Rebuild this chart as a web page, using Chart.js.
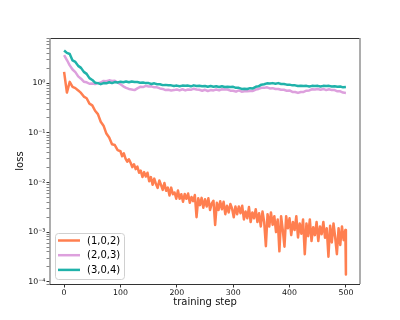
<!DOCTYPE html>
<html>
<head>
<meta charset="utf-8">
<script src="https://cdn.jsdelivr.net/npm/chart.js@4.4.0/dist/chart.umd.min.js"></script>
<style>
  html, body { margin: 0; padding: 0; background: #fff; }
  #wrap { width: 400px; height: 320px; }
</style>
</head>
<body>
<div id="wrap"><canvas id="lossChart" width="400" height="320"></canvas></div>
<script>
// training steps for (2,0,3) and (3,0,4), sampled every 5 steps
const steps = [0, 5, 10, 15, 20, 25, 30, 35, 40, 45, 50, 55, 60, 65, 70, 75, 80, 85, 90, 95,
  100, 105, 110, 115, 120, 125, 130, 135, 140, 145, 150, 155, 160, 165, 170, 175, 180, 185, 190, 195,
  200, 205, 210, 215, 220, 225, 230, 235, 240, 245, 250, 255, 260, 265, 270, 275, 280, 285, 290, 295,
  300, 305, 310, 315, 320, 325, 330, 335, 340, 345, 350, 355, 360, 365, 370, 375, 380, 385, 390, 395,
  400, 405, 410, 415, 420, 425, 430, 435, 440, 445, 450, 455, 460, 465, 470, 475, 480, 485, 490, 495, 500];

// (1,0,2) is much noisier, so it is sampled more densely after step 100
const stepsOrange = [0, 5, 10, 15, 20, 25, 30, 35, 40, 45, 50, 55, 60, 65, 70, 75, 80, 85, 90, 95,
  100, 103, 106, 109, 112, 115, 118, 121, 124, 127,
  130, 133, 136, 139, 142, 145, 148, 151, 154, 157,
  160, 163, 166, 169, 172, 175, 178, 181, 184, 187,
  190, 193, 196, 199, 202, 205, 208, 211, 214, 217,
  220, 223, 226, 229, 232, 235, 238, 241, 244, 247,
  250, 253, 256, 259, 262, 265, 268, 271, 274, 277,
  280, 283, 286, 289, 292, 295, 298, 301, 304, 307,
  310, 313, 316, 319, 322, 325, 328, 331, 334, 337,
  340, 343, 346, 349, 352, 355, 358, 361, 364, 367,
  370, 373, 376, 379, 382, 385, 388, 391, 394, 397,
  400, 403, 406, 409, 412, 415, 418, 421, 424, 427,
  430, 433, 436, 439, 442, 445, 448, 451, 454, 457,
  460, 463, 466, 469, 472, 475, 478, 481, 484, 487,
  490, 493, 496, 499, 500];

const seriesNames = ["(1,0,2)", "(2,0,3)", "(3,0,4)"];
const seriesColors = ["#FF7F50", "#DDA0DD", "#20B2AA"];

const loss102 = [1.7, 0.65, 1.07, 0.85, 0.80, 0.72, 0.64, 0.54, 0.50, 0.39,
  0.36, 0.28, 0.24, 0.168, 0.14, 0.097, 0.081, 0.059, 0.057, 0.045,
  0.0427, 0.0339, 0.0389, 0.0302, 0.0263, 0.0295, 0.0251, 0.0204, 0.0234, 0.0186,
  0.0209, 0.0158, 0.0174, 0.0129, 0.0162, 0.0132, 0.0158, 0.0106, 0.0129, 0.0090,
  0.0120, 0.0093, 0.0078, 0.011, 0.0089, 0.0071, 0.0098, 0.0068, 0.0079, 0.0055,
  0.0079, 0.0058, 0.0063, 0.0047, 0.0069, 0.0047, 0.0058, 0.0041, 0.0059, 0.0047,
  0.0060, 0.0039, 0.0051, 0.0042, 0.0056, 0.0020, 0.0048, 0.0035, 0.0049, 0.0031,
  0.0046, 0.0033, 0.0048, 0.0028, 0.0038, 0.0043, 0.0014, 0.0039, 0.0028, 0.0042,
  0.0029, 0.0041, 0.0023, 0.0034, 0.0025, 0.0037, 0.0030, 0.0020, 0.0033, 0.0023,
  0.0033, 0.0024, 0.0034, 0.0018, 0.0026, 0.0019, 0.0032, 0.0016, 0.0025, 0.0019,
  0.0029, 0.0016, 0.0024, 0.0013, 0.0026, 0.0016, 0.00052, 0.0023, 0.0013, 0.0025,
  0.0014, 0.0021, 0.0010, 0.0018, 0.00041, 0.0021, 0.0011, 0.00051, 0.0021, 0.0012,
  0.0019, 0.00087, 0.0016, 0.0011, 0.0021, 0.00078, 0.0015, 0.00093, 0.0018, 0.00036,
  0.0015, 0.00083, 0.0018, 0.00066, 0.00126, 0.00087, 0.0016, 0.00066, 0.0013, 0.00091,
  0.0016, 0.00077, 0.0012, 0.00032, 0.00135, 0.00062, 0.0015, 0.00078, 0.00036, 0.0012,
  0.00055, 0.0013, 0.00069, 0.0011, 0.00014];

const loss203 = [3.7, 2.95, 2.3, 1.9, 1.68, 1.38, 1.24, 1.08, 1.05, 0.98,
  0.99, 0.97, 1.01, 1.04, 1.12, 1.1, 1.15, 1.11, 1.13, 1.04,
  0.96, 0.87, 0.81, 0.77, 0.75, 0.73, 0.79, 0.85, 0.84, 0.89,
  0.86, 0.87, 0.83, 0.83, 0.79, 0.77, 0.73, 0.74, 0.72, 0.73,
  0.75, 0.72, 0.76, 0.72, 0.75, 0.74, 0.78, 0.75, 0.74, 0.71,
  0.74, 0.70, 0.73, 0.72, 0.75, 0.72, 0.76, 0.75, 0.75, 0.71,
  0.71, 0.68, 0.72, 0.68, 0.69, 0.69, 0.70, 0.70, 0.75, 0.77,
  0.81, 0.81, 0.83, 0.79, 0.80, 0.77, 0.77, 0.74, 0.74, 0.71,
  0.72, 0.67, 0.67, 0.64, 0.67, 0.67, 0.71, 0.72, 0.76, 0.75,
  0.77, 0.74, 0.77, 0.73, 0.76, 0.73, 0.73, 0.69, 0.69, 0.65, 0.64];

const loss304 = [4.6, 4.1, 3.9, 2.9, 2.7, 2.25, 2.05, 1.7, 1.55, 1.27,
  1.17, 1.03, 1.01, 0.96, 1.01, 1.0, 1.05, 1.01, 1.06, 1.04,
  1.08, 1.05, 1.09, 1.05, 1.09, 1.06, 1.06, 1.03, 1.04, 1.01,
  1.01, 0.97, 1.0, 0.96, 0.96, 0.92, 0.93, 0.91, 0.91, 0.88,
  0.9, 0.87, 0.9, 0.89, 0.9, 0.87, 0.91, 0.88, 0.89, 0.87,
  0.88, 0.85, 0.88, 0.85, 0.87, 0.84, 0.87, 0.84, 0.85, 0.84,
  0.85, 0.81, 0.81, 0.77, 0.78, 0.77, 0.8, 0.79, 0.85, 0.87,
  0.94, 0.96, 1.0, 0.99, 1.01, 0.98, 1.01, 0.97, 0.97, 0.94,
  0.94, 0.91, 0.91, 0.88, 0.89, 0.88, 0.89, 0.86, 0.89, 0.88,
  0.89, 0.86, 0.89, 0.88, 0.89, 0.86, 0.87, 0.85, 0.86, 0.83, 0.84];

const xTicks = [0, 100, 200, 300, 400, 500];
const yMajorTicks = [1e-4, 1e-3, 1e-2, 1e-1, 1];
const yTickLabels = ["10\u207B\u2074", "10\u207B\u00B3", "10\u207B\u00B2", "10\u207B\u00B9", "10\u2070"];

const allSeries = [loss102, loss203, loss304];
const allSteps = [stepsOrange, steps, steps];
const FONT = "'DejaVu Sans', sans-serif";

// minor log ticks 2..9 x 10^n inside the visible range
const yMin = 9e-5, yMax = 8.2;
const yAllTicks = [];
yMajorTicks.concat([10]).forEach(function (m) {
  for (let k = 1; k <= 9; k++) {
    const v = m * k / 10;
    if (v >= yMin && v <= yMax) yAllTicks.push(v);
  }
});

const frame = {
  id: "frame",
  afterDatasetsDraw(chart) {
    const { ctx, chartArea: a } = chart;
    ctx.save();
    ctx.strokeStyle = "#333";
    ctx.lineWidth = 1;
    ctx.beginPath();
    ctx.moveTo(a.left, a.top + 0.5); ctx.lineTo(a.right, a.top + 0.5);
    ctx.moveTo(a.left, a.bottom + 0.5); ctx.lineTo(a.right, a.bottom + 0.5);
    ctx.stroke();
    ctx.strokeStyle = "#999";
    ctx.lineWidth = 1.6;
    ctx.beginPath();
    ctx.moveTo(a.left, a.top); ctx.lineTo(a.left, a.bottom);
    ctx.moveTo(a.right, a.top); ctx.lineTo(a.right, a.bottom);
    ctx.stroke();
    ctx.restore();
  }
};

const legendBox = {
  id: "legendBox",
  afterDraw(chart) {
    const { ctx } = chart;
    const x0 = 55, y0 = 233, w = 69, h = 46;
    ctx.save();
    ctx.fillStyle = "rgba(255,255,255,0.8)";
    ctx.strokeStyle = "#d0d0d0";
    ctx.lineWidth = 1;
    ctx.beginPath();
    ctx.roundRect(x0 + 0.5, y0 + 0.5, w, h, 3);
    ctx.fill();
    ctx.stroke();
    ctx.font = "10px " + FONT;
    ctx.textBaseline = "middle";
    ctx.fillStyle = "#000";
    chart.data.datasets.forEach(function (ds, i) {
      const y = y0 + 7.5 + i * 14.7;
      ctx.strokeStyle = ds.borderColor;
      ctx.lineWidth = 2.5;
      ctx.beginPath();
      ctx.moveTo(58, y);
      ctx.lineTo(80, y);
      ctx.stroke();
      ctx.fillText(ds.label, 87, y + 0.5);
    });
    ctx.restore();
  }
};

new Chart(document.getElementById("lossChart"), {
  type: "line",
  data: {
    datasets: allSeries.map(function (vals, i) {
      return {
        label: seriesNames[i],
        data: allSteps[i].map(function (s, j) { return { x: s, y: vals[j] }; }),
        borderColor: seriesColors[i],
        backgroundColor: seriesColors[i],
        borderWidth: 2.5,
        borderJoinStyle: "round",
        pointRadius: 0,
        tension: 0,
        order: 3 - i
      };
    })
  },
  options: {
    responsive: false,
    animation: false,
    devicePixelRatio: 1,
    layout: { padding: { top: 38, right: 40, left: 0, bottom: 0 } },
    plugins: { legend: { display: false }, tooltip: { enabled: false } },
    scales: {
      x: {
        type: "linear",
        min: -25,
        max: 525,
        afterBuildTicks: function (scale) {
          scale.ticks = xTicks.map(function (v) { return { value: v }; });
        },
        afterFit: function (scale) { scale.height = 36; },
        border: { display: false },
        grid: { drawOnChartArea: false, drawTicks: true, tickLength: 3.5, tickColor: "#333", tickWidth: 1 },
        ticks: { padding: 0.5, color: "#111", font: { family: FONT, size: 7.8 }, maxRotation: 0 },
        title: { display: true, text: "training step", color: "#111", font: { family: FONT, size: 10 }, padding: { top: 0, bottom: 11.5 } }
      },
      y: {
        type: "logarithmic",
        min: yMin,
        max: yMax,
        afterBuildTicks: function (scale) {
          scale.ticks = yAllTicks.map(function (v) { return { value: v }; });
        },
        afterFit: function (scale) { scale.width = 50; },
        border: { display: false },
        grid: {
          drawOnChartArea: false, drawTicks: true, tickLength: 3.5, tickColor: "#333",
          tickWidth: function (c) { return yMajorTicks.indexOf(c.tick.value) >= 0 ? 1 : 0.6; }
        },
        ticks: {
          autoSkip: false,
          padding: 1,
          color: "#111",
          font: { family: FONT, size: 7.8 },
          callback: function (v) {
            const k = yMajorTicks.findIndex(function (m) { return Math.abs(m - v) / m < 1e-6; });
            return k >= 0 ? yTickLabels[k] : "";
          }
        },
        title: { display: true, text: "loss", color: "#111", font: { family: FONT, size: 10 }, padding: { top: 14, bottom: 0 } }
      }
    }
  },
  plugins: [frame, legendBox]
});
</script>
</body>
</html>
